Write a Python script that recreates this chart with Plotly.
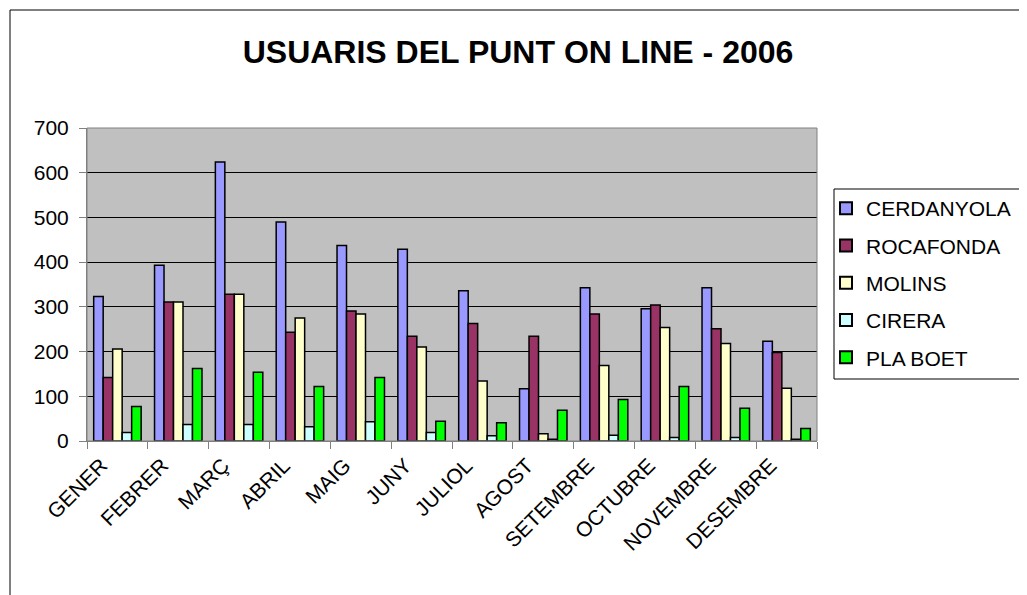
import plotly.graph_objects as go

months = ["GENER", "FEBRER", "MARÇ", "ABRIL", "MAIG", "JUNY", "JULIOL",
          "AGOST", "SETEMBRE", "OCTUBRE", "NOVEMBRE", "DESEMBRE"]

cerdanyola = [323, 393, 624, 490, 437, 429, 336, 117, 343, 296, 343, 223]
rocafonda = [142, 311, 328, 243, 291, 234, 263, 234, 284, 304, 251, 198]
molins = [206, 311, 328, 275, 284, 210, 134, 16, 169, 254, 218, 118]
cirera = [19, 37, 37, 32, 43, 19, 12, 4, 13, 8, 8, 4]
pla_boet = [77, 162, 154, 122, 142, 44, 41, 69, 93, 122, 73, 28]

series = [
    ("CERDANYOLA", cerdanyola, "#9999FF"),
    ("ROCAFONDA", rocafonda, "#993366"),
    ("MOLINS", molins, "#FFFFCC"),
    ("CIRERA", cirera, "#CCFFFF"),
    ("PLA BOET", pla_boet, "#00FF00"),
]

fig = go.Figure()
for name, vals, col in series:
    fig.add_trace(go.Bar(
        x=months, y=vals, name=name, legendgroup=name,
        marker=dict(color=col, line=dict(color="black", width=1.5)),
    ))

# page is drawn with an 8px body margin; positions below are figure coords
W, H = 1027, 595
L, R, T, B = 79, 809, 120, 433
pw, ph = R - L, B - T

def px(x):
    return (x - L) / pw

def py(y):
    return (B - y) / ph

font = "Arial, Liberation Sans, sans-serif"

fig.update_layout(
    width=W, height=H,
    margin=dict(l=L, r=W - R, t=T, b=H - B, autoexpand=False),
    paper_bgcolor="white",
    plot_bgcolor="#C0C0C0",
    barmode="group",
    bargap=0.22,
    bargroupgap=0,
    font=dict(family=font, color="black", size=21),
    title=dict(
        text="<b>USUARIS DEL PUNT ON LINE - 2006</b>",
        x=510 / W, xanchor="center", xref="container",
        y=1 - 44 / H, yanchor="middle", yref="container",
        font=dict(family=font, size=32, color="black"),
    ),
    legend=dict(
        x=px(818), y=py(180), xanchor="left", yanchor="top",
        borderwidth=0, bgcolor="rgba(0,0,0,0)",
        font=dict(family=font, size=21, color="black"),
        tracegroupgap=7, itemsizing="constant",
    ),
    showlegend=True,
    xaxis=dict(
        type="category",
        showline=True, linecolor="#808080", linewidth=1,
        ticks="outside", ticklen=7, tickcolor="#808080",
        tickson="boundaries", tickangle=-45,
        ticklabelshift=-16, ticklabelstandoff=3,
        tickfont=dict(family=font, size=21, color="black"),
        showgrid=False, zeroline=False,
    ),
    yaxis=dict(
        range=[0, 700], dtick=100, tick0=0,
        showline=True, linecolor="#808080", linewidth=1,
        ticks="outside", ticklen=7, tickcolor="#808080",
        ticklabelstandoff=6,
        showgrid=True, gridcolor="black", gridwidth=1,
        tickfont=dict(family=font, size=21, color="black"),
        zeroline=False,
    ),
    shapes=[
        dict(type="rect", xref="paper", yref="paper",
             x0=px(2), x1=px(1040), y0=py(2), y1=py(610),
             line=dict(color="black", width=1), fillcolor="rgba(0,0,0,0)", layer="below"),
        dict(type="rect", xref="paper", yref="paper",
             x0=px(826), x1=px(1040), y0=py(181), y1=py(371),
             line=dict(color="black", width=1), fillcolor="white", layer="below"),
        dict(type="rect", xref="paper", yref="paper",
             x0=0, x1=1, y0=0, y1=1,
             line=dict(color="#808080", width=1), fillcolor="rgba(0,0,0,0)"),
    ],
)

fig.write_html("out.html")
